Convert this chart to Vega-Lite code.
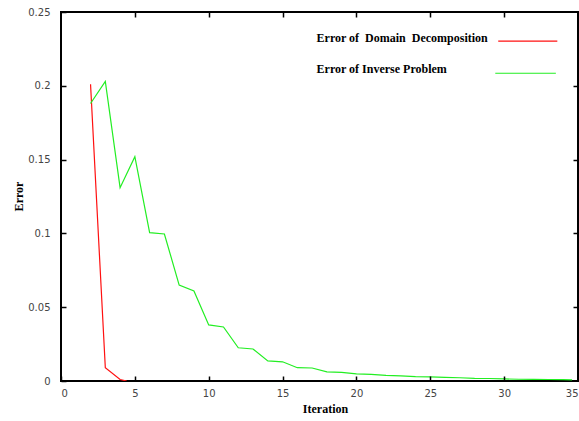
{
  "$schema": "https://vega.github.io/schema/vega-lite/v6.json",
  "width": 517,
  "height": 369,
  "autosize": {"type": "none"},
  "padding": {"left": 61, "top": 12, "right": 1, "bottom": 40},
  "background": "white",
  "config": {
    "view": {"stroke": "black", "strokeWidth": 2},
    "axis": {
      "grid": false,
      "labelFont": "DejaVu Sans",
      "labelFontSize": 10,
      "labelColor": "#444",
      "titleFont": "Liberation Serif",
      "titleFontSize": 12,
      "titleFontWeight": "bold",
      "titleColor": "black"
    }
  },
  "layer": [
    {
      "data": {"values": [
        {"it": 2, "err": 0.201, "s": "Domain"},
        {"it": 3, "err": 0.009, "s": "Domain"},
        {"it": 4, "err": 0.001, "s": "Domain"},
        {"it": 4.45, "err": 0.0, "s": "Domain"},
        {"it": 2, "err": 0.188, "s": "Inverse"},
        {"it": 3, "err": 0.203, "s": "Inverse"},
        {"it": 4, "err": 0.131, "s": "Inverse"},
        {"it": 5, "err": 0.152, "s": "Inverse"},
        {"it": 6, "err": 0.1005, "s": "Inverse"},
        {"it": 7, "err": 0.0996, "s": "Inverse"},
        {"it": 8, "err": 0.065, "s": "Inverse"},
        {"it": 9, "err": 0.061, "s": "Inverse"},
        {"it": 10, "err": 0.038, "s": "Inverse"},
        {"it": 11, "err": 0.0366, "s": "Inverse"},
        {"it": 12, "err": 0.0225, "s": "Inverse"},
        {"it": 13, "err": 0.0217, "s": "Inverse"},
        {"it": 14, "err": 0.0136, "s": "Inverse"},
        {"it": 15, "err": 0.013, "s": "Inverse"},
        {"it": 16, "err": 0.009, "s": "Inverse"},
        {"it": 17, "err": 0.0088, "s": "Inverse"},
        {"it": 18, "err": 0.0062, "s": "Inverse"},
        {"it": 19, "err": 0.0058, "s": "Inverse"},
        {"it": 20, "err": 0.0048, "s": "Inverse"},
        {"it": 21, "err": 0.0045, "s": "Inverse"},
        {"it": 22, "err": 0.0038, "s": "Inverse"},
        {"it": 23, "err": 0.0035, "s": "Inverse"},
        {"it": 24, "err": 0.003, "s": "Inverse"},
        {"it": 25, "err": 0.0028, "s": "Inverse"},
        {"it": 26, "err": 0.0024, "s": "Inverse"},
        {"it": 27, "err": 0.0022, "s": "Inverse"},
        {"it": 28, "err": 0.0018, "s": "Inverse"},
        {"it": 29, "err": 0.0017, "s": "Inverse"},
        {"it": 30, "err": 0.0014, "s": "Inverse"},
        {"it": 31, "err": 0.0012, "s": "Inverse"},
        {"it": 32, "err": 0.0011, "s": "Inverse"},
        {"it": 33, "err": 0.001, "s": "Inverse"},
        {"it": 34, "err": 0.0009, "s": "Inverse"},
        {"it": 34.6, "err": 0.0008, "s": "Inverse"}
      ]},
      "mark": {"type": "line", "strokeWidth": 1.2, "clip": true},
      "encoding": {
        "x": {"field": "it", "type": "quantitative",
              "scale": {"domain": [0, 35], "nice": false},
              "axis": {"orient": "bottom", "values": [0, 5, 10, 15, 20, 25, 30, 35], "domain": false, "ticks": true, "tickColor": "black", "tickWidth": 1.5, "tickSize": 5, "offset": -5, "zindex": 1, "labelPadding": 7, "title": "Iteration", "titleX": 264, "titleY": 27, "titleBaseline": "top"}},
        "y": {"field": "err", "type": "quantitative",
              "scale": {"domain": [0, 0.25], "nice": false},
              "axis": {"orient": "left", "values": [0, 0.05, 0.1, 0.15, 0.2, 0.25], "format": "~g", "domain": false, "ticks": true, "tickColor": "black", "tickWidth": 1.5, "tickSize": 5, "offset": -5, "zindex": 1, "labelPadding": 11, "title": "Error", "titleX": -48, "titleY": 184, "titleBaseline": "middle"}},
        "color": {"field": "s", "type": "nominal", "legend": null,
                  "scale": {"domain": ["Domain", "Inverse"], "range": ["#ff1010", "#22ee22"]}},
        "detail": {"field": "s"}
      }
    },
    {
      "data": {"values": [
        {"x": 17.3, "y": 0.2325, "label": "Error of\u00a0\u00a0Domain\u00a0\u00a0Decomposition"},
        {"x": 17.3, "y": 0.2115, "label": "Error of Inverse Problem"}
      ]},
      "mark": {"type": "text", "font": "Liberation Serif", "fontSize": 12, "fontWeight": "bold", "align": "left", "baseline": "middle", "color": "black"},
      "encoding": {
        "x": {"field": "x", "type": "quantitative",
              "axis": {"orient": "top", "values": [5, 10, 15, 20, 25, 30], "labels": false, "title": null, "domain": false, "ticks": true, "tickColor": "black", "tickWidth": 1.5, "tickSize": 5, "offset": -5, "zindex": 1}},
        "y": {"field": "y", "type": "quantitative",
              "axis": {"orient": "right", "values": [0.05, 0.1, 0.15, 0.2], "labels": false, "title": null, "domain": false, "ticks": true, "tickColor": "black", "tickWidth": 1.5, "tickSize": 5, "offset": -5, "zindex": 1}},
        "text": {"field": "label"}
      }
    },
    {
      "data": {"values": [
        {"x1": 29.6, "x2": 33.6, "y": 0.2303, "s": "Domain"},
        {"x1": 29.4, "x2": 33.5, "y": 0.2085, "s": "Inverse"}
      ]},
      "mark": {"type": "rule", "strokeWidth": 1.2},
      "encoding": {
        "x": {"field": "x1", "type": "quantitative", "axis": null},
        "x2": {"field": "x2"},
        "y": {"field": "y", "type": "quantitative", "axis": null},
        "color": {"field": "s", "type": "nominal", "legend": null}
      }
    }
  ]
}
